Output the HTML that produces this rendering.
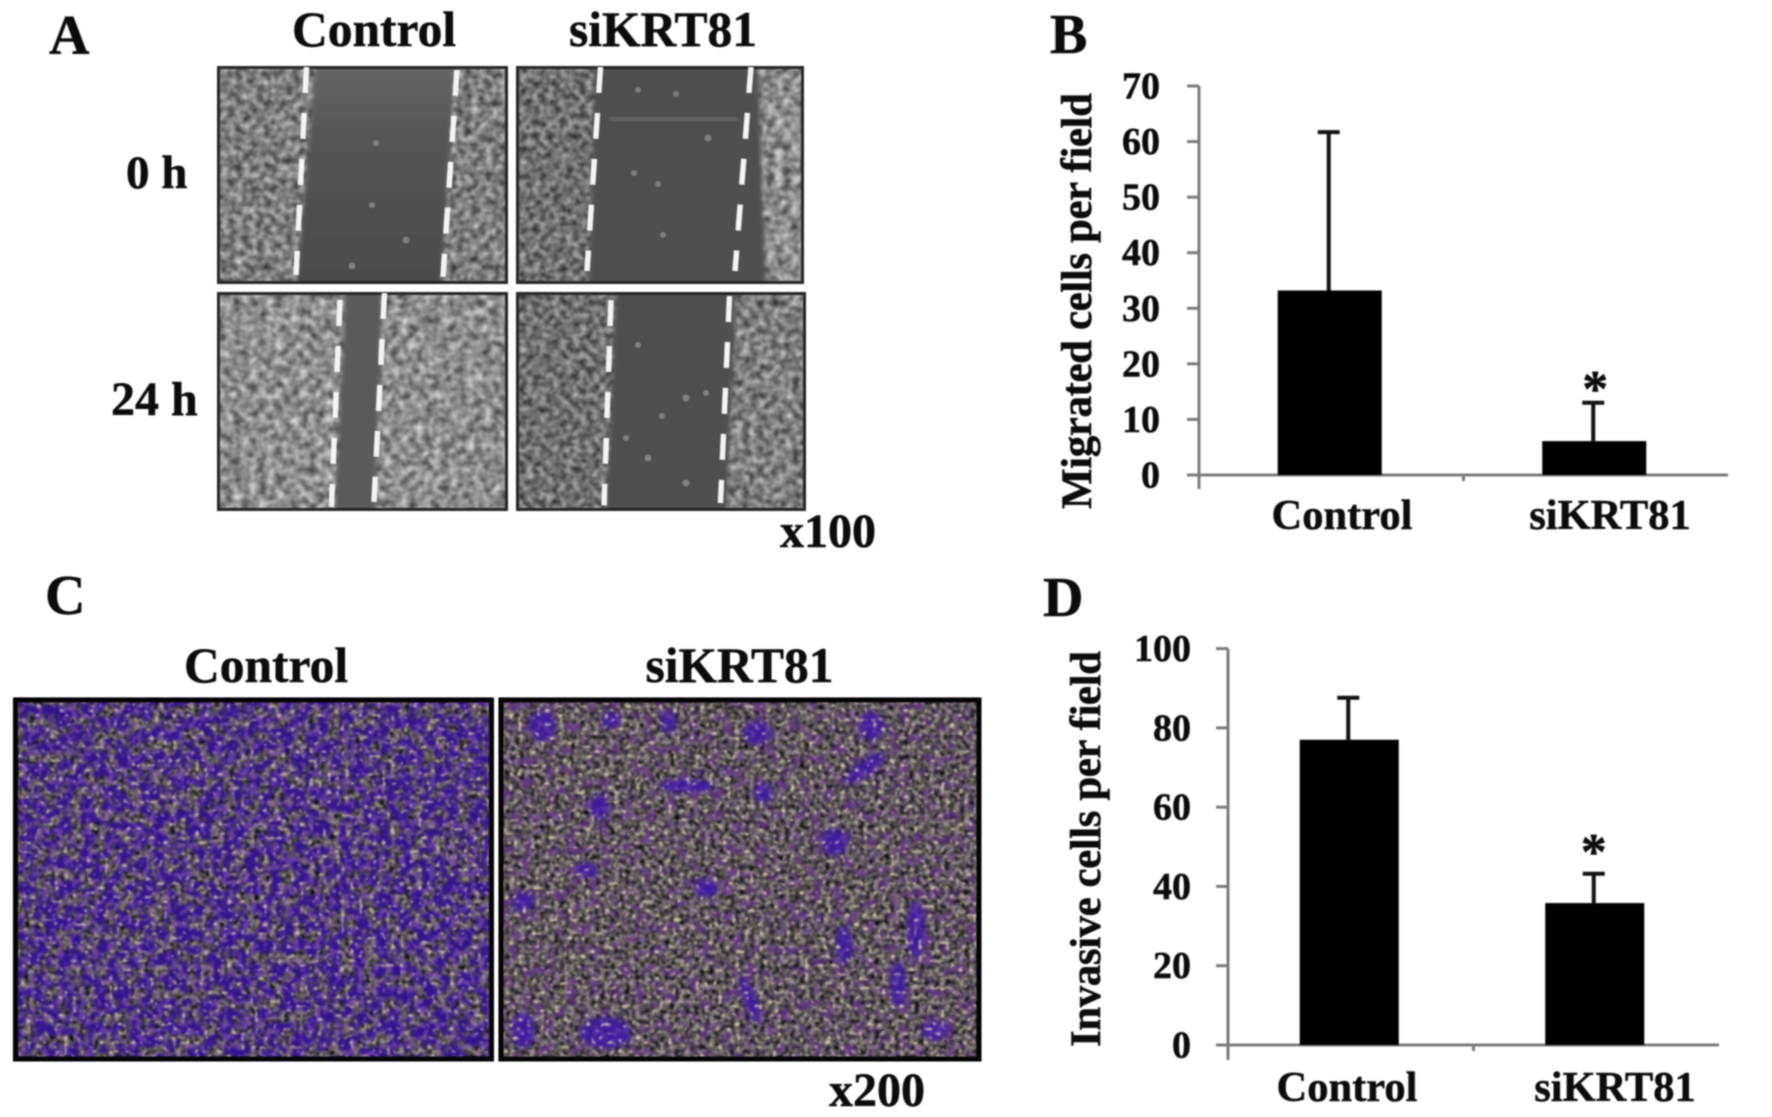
<!DOCTYPE html>
<html lang="en">
<head>
<meta charset="utf-8">
<title>KRT81 migration and invasion figure</title>
<style>
html,body{margin:0;padding:0;background:#fff;width:1772px;height:1117px;overflow:hidden}
svg{display:block;font-family:"Liberation Serif",serif;font-weight:bold}
text{fill:#0c0c0c;stroke:#0c0c0c;stroke-width:.5px}
.soft{filter:blur(.7px)}
</style>
</head>
<body>
<svg id="figure" width="1772" height="1117" viewBox="0 0 1772 1117" xmlns="http://www.w3.org/2000/svg">
<defs>
  <filter id="cellsLow" x="0" y="0" width="100%" height="100%" color-interpolation-filters="sRGB">
    <feTurbulence type="fractalNoise" baseFrequency="0.15" numOctaves="2" seed="7"/>
    <feColorMatrix values=".8 0 0 0 .04  .8 0 0 0 .04  .8 0 0 0 .04  0 0 0 0 1"/>
    <feGaussianBlur stdDeviation="1"/>
  </filter>
  <filter id="cellsMid" x="0" y="0" width="100%" height="100%" color-interpolation-filters="sRGB">
    <feTurbulence type="fractalNoise" baseFrequency="0.14" numOctaves="2" seed="19"/>
    <feColorMatrix values=".85 0 0 0 .07  .85 0 0 0 .07  .85 0 0 0 .07  0 0 0 0 1"/>
    <feGaussianBlur stdDeviation="1"/>
  </filter>
  <filter id="cellsHigh" x="0" y="0" width="100%" height="100%" color-interpolation-filters="sRGB">
    <feTurbulence type="fractalNoise" baseFrequency="0.12" numOctaves="2" seed="31"/>
    <feColorMatrix values=".85 0 0 0 .13  .85 0 0 0 .13  .85 0 0 0 .13  0 0 0 0 1"/>
    <feGaussianBlur stdDeviation="1"/>
  </filter>
  <filter id="edge" x="-10%" y="-10%" width="120%" height="120%"><feGaussianBlur stdDeviation="2.5"/></filter>
  <filter id="speck" x="0" y="0" width="100%" height="100%" color-interpolation-filters="sRGB">
    <feTurbulence type="fractalNoise" baseFrequency="0.2" numOctaves="2" seed="3"/>
    <feColorMatrix values="1.1 .1 0 0 -.26  1.05 .1 0 0 -.25  .95 .2 0 0 -.26  0 0 0 0 1"/>
    <feGaussianBlur stdDeviation=".9"/>
  </filter>
  <filter id="cream" x="0" y="0" width="100%" height="100%" color-interpolation-filters="sRGB">
    <feTurbulence type="fractalNoise" baseFrequency="0.22" numOctaves="1" seed="11"/>
    <feColorMatrix values="0 0 0 0 .92  0 0 0 0 .88  0 0 0 0 .72  8 0 0 0 -4.9"/>
    <feGaussianBlur stdDeviation=".9"/>
  </filter>
  <filter id="lilac" x="0" y="0" width="100%" height="100%" color-interpolation-filters="sRGB">
    <feTurbulence type="fractalNoise" baseFrequency="0.14" numOctaves="2" seed="41"/>
    <feColorMatrix values="0 0 0 0 .6  0 0 0 0 .42  0 0 0 0 .72  6 0 0 0 -3"/>
    <feGaussianBlur stdDeviation=".8"/>
  </filter>
  <filter id="purpleDense" x="0" y="0" width="100%" height="100%" color-interpolation-filters="sRGB">
    <feTurbulence type="fractalNoise" baseFrequency="0.085" numOctaves="3" seed="5"/>
    <feColorMatrix values="0 0 0 0 .2  0 0 0 0 .08  0 0 0 0 .56  5 0 0 0 -1.9"/>
    <feGaussianBlur stdDeviation="1.2"/>
  </filter>
  <filter id="purpleSparse" x="0" y="0" width="100%" height="100%" color-interpolation-filters="sRGB">
    <feTurbulence type="fractalNoise" baseFrequency="0.09" numOctaves="3" seed="23"/>
    <feColorMatrix values="0 0 0 0 .36  0 0 0 0 .2  0 0 0 0 .5  4 0 0 0 -2.05"/>
    <feGaussianBlur stdDeviation="1.2"/>
  </filter>
  <filter id="blob" x="-50%" y="-50%" width="200%" height="200%"><feGaussianBlur stdDeviation="3"/></filter>
  <clipPath id="clip-tl"><rect x="218" y="67" width="289" height="216"/></clipPath>
  <clipPath id="clip-tr"><rect x="517" y="67" width="286" height="216"/></clipPath>
  <clipPath id="clip-bl"><rect x="218" y="293" width="289" height="217"/></clipPath>
  <clipPath id="clip-br"><rect x="517" y="293" width="288" height="217"/></clipPath>
  <linearGradient id="woundGrad" x1="0" y1="0" x2="0" y2="1">
    <stop offset="0" stop-color="#676767"/><stop offset=".35" stop-color="#545454"/><stop offset="1" stop-color="#4b4b4b"/>
  </linearGradient>
</defs>
<rect width="1772" height="1117" fill="#fff"/>

<!-- Panel A -->
<g>
  <g clip-path="url(#clip-tl)">
    <rect x="218" y="67" width="289" height="216" filter="url(#cellsMid)"/>
    <polygon points="316,60 455,60 441,290 296,290" fill="url(#woundGrad)" filter="url(#edge)"/>
    <g fill="#7e7e7e" class="soft"><circle cx="376" cy="143" r="3"/><circle cx="372" cy="205" r="3"/><circle cx="406" cy="240" r="3.5"/><circle cx="352" cy="266" r="3.5"/></g>
  </g>
  <g clip-path="url(#clip-tr)">
    <rect x="517" y="67" width="240" height="216" filter="url(#cellsLow)"/>
    <rect x="740" y="67" width="63" height="216" filter="url(#cellsHigh)"/>
    <polygon points="595,60 758,60 766,290 589,290" fill="#505050" filter="url(#edge)"/>
    <rect x="610" y="117" width="128" height="4" fill="#6c6c6c" filter="url(#edge)"/>
    <g fill="#7e7e7e" class="soft"><circle cx="638" cy="90" r="3"/><circle cx="676" cy="94" r="3"/><circle cx="708" cy="138" r="3.5"/><circle cx="634" cy="173" r="3"/><circle cx="658" cy="184" r="3"/><circle cx="663" cy="235" r="3"/></g>
  </g>
  <g clip-path="url(#clip-bl)">
    <rect x="218" y="293" width="289" height="217" filter="url(#cellsHigh)"/>
    <polygon points="346,290 382,290 375,516 334,516" fill="#5a5a5a" filter="url(#edge)"/>
  </g>
  <g clip-path="url(#clip-br)">
    <rect x="517" y="293" width="288" height="217" filter="url(#cellsLow)"/>
    <rect x="725" y="293" width="80" height="217" filter="url(#cellsMid)"/>
    <polygon points="616,290 736,290 726,516 606,516" fill="#505050" filter="url(#edge)"/>
    <g fill="#808080" class="soft"><circle cx="638" cy="345" r="3"/><circle cx="686" cy="398" r="3.5"/><circle cx="662" cy="416" r="3"/><circle cx="648" cy="458" r="3.5"/><circle cx="686" cy="483" r="3.5"/><circle cx="706" cy="393" r="3"/><circle cx="626" cy="438" r="3"/></g>
  </g>
  <g fill="none" stroke="#262626" stroke-width="3" class="soft">
    <rect x="218.5" y="67.5" width="288" height="215"/>
    <rect x="517.5" y="67.5" width="285" height="215"/>
    <rect x="218.5" y="293.5" width="288" height="216"/>
    <rect x="517.5" y="293.5" width="287" height="216"/>
  </g>
  <g stroke="#f4f4f4" stroke-width="5.5" stroke-dasharray="26 20" class="soft">
    <line x1="306.5" y1="67" x2="296" y2="275"/>
    <line x1="457" y1="70" x2="443" y2="277"/>
    <line x1="600.5" y1="67" x2="587" y2="271"/>
    <line x1="751" y1="67" x2="735" y2="271"/>
    <line x1="340" y1="300" x2="331.4" y2="507"/>
    <line x1="384.5" y1="293" x2="374" y2="502"/>
    <line x1="611" y1="300" x2="604" y2="505.5"/>
    <line x1="729.5" y1="296" x2="720.5" y2="503"/>
  </g>
  <g class="soft">
    <text x="49" y="54" font-size="56">A</text>
    <text x="292" y="46" font-size="49.5">Control</text>
    <text x="569" y="46" font-size="49.5">siKRT81</text>
    <text x="126" y="188" font-size="47">0 h</text>
    <text x="111" y="415" font-size="48">24 h</text>
    <text x="780" y="547" font-size="48">x100</text>
  </g>
</g>

<!-- Panel C -->
<g>
  <g class="soft">
    <rect x="14" y="698" width="478" height="362" filter="url(#speck)"/>
    <rect x="14" y="698" width="478" height="362" filter="url(#purpleDense)"/>
    <rect x="14" y="698" width="478" height="362" filter="url(#lilac)" opacity=".45"/>
    <rect x="14" y="698" width="478" height="362" filter="url(#cream)" opacity=".7"/>
  </g>
  <g class="soft">
    <rect x="499" y="698" width="481" height="362" filter="url(#speck)"/>
    <rect x="499" y="698" width="481" height="362" filter="url(#purpleSparse)"/>
    <g fill="#3d1a9c" filter="url(#blob)">
      <ellipse cx="542" cy="726" rx="13" ry="16"/><ellipse cx="611" cy="719" rx="10" ry="8"/>
      <ellipse cx="668" cy="722" rx="8" ry="12"/><ellipse cx="757" cy="733" rx="14" ry="12"/>
      <ellipse cx="871" cy="726" rx="13" ry="14"/><ellipse cx="687" cy="786" rx="28" ry="7"/>
      <ellipse cx="865" cy="768" rx="24" ry="8" transform="rotate(-35 865 768)"/><ellipse cx="763" cy="793" rx="10" ry="10"/>
      <ellipse cx="599" cy="807" rx="10" ry="13"/><ellipse cx="834" cy="842" rx="14" ry="14"/>
      <ellipse cx="586" cy="870" rx="12" ry="8"/><ellipse cx="706" cy="888" rx="12" ry="10"/>
      <ellipse cx="523" cy="902" rx="12" ry="10"/><ellipse cx="916" cy="930" rx="9" ry="30"/>
      <ellipse cx="750" cy="1000" rx="7" ry="26" transform="rotate(-20 750 1000)"/>
      <ellipse cx="605" cy="1033" rx="26" ry="16"/><ellipse cx="523" cy="1030" rx="12" ry="18"/>
      <ellipse cx="935" cy="1030" rx="14" ry="10"/><ellipse cx="898" cy="985" rx="8" ry="24"/>
      <ellipse cx="844" cy="945" rx="8" ry="20"/>
    </g>
    <rect x="499" y="698" width="481" height="362" filter="url(#lilac)" opacity=".25"/>
    <rect x="499" y="698" width="481" height="362" filter="url(#cream)" opacity=".8"/>
  </g>
  <g fill="none" stroke="#050505" stroke-width="5" class="soft">
    <rect x="15.5" y="700" width="476" height="359"/>
    <rect x="501" y="700" width="478" height="359"/>
  </g>
  <g class="soft">
    <text x="45" y="614" font-size="56">C</text>
    <text x="184" y="682" font-size="49.5">Control</text>
    <text x="645.5" y="682" font-size="49.5">siKRT81</text>
    <text x="829" y="1106" font-size="48">x200</text>
  </g>
</g>

<!-- Panels B & D -->
<g class="soft">
  <text x="1050" y="53" font-size="56">B</text>
  <text x="1043" y="616" font-size="56">D</text>
  <g id="chart-b"></g>
  <g id="chart-d"></g>
</g>
</svg>

<script>
const categories = ["Control", "siKRT81"];
const migratedMeans = [33.2, 6.1];
const migratedErrors = [28.5, 6.9];
const migratedTicks = [0, 10, 20, 30, 40, 50, 60, 70];
const invasiveMeans = [77, 35.8];
const invasiveErrors = [10.6, 7.4];
const invasiveTicks = [0, 20, 40, 60, 80, 100];
const significant = [false, true];

const NS = 'http://www.w3.org/2000/svg';

function mark(parent, tag, attrs) {
  const el = document.createElementNS(NS, tag);
  for (const k in attrs) el.setAttribute(k, attrs[k]);
  parent.appendChild(el);
  return el;
}

function drawChart(id, means, errors, ticks, title, c) {
  const g = document.getElementById(id);
  const yMax = ticks[ticks.length - 1];
  const y = v => c.y0 - (v / yMax) * (c.y0 - c.yTop);
  const band = (c.xEnd - c.xAxis) / categories.length;
  const x = i => c.xAxis + c.barShift + band * (i + 0.5);
  const axisStyle = { stroke: '#7b7b7b', 'stroke-width': 3, fill: 'none' };

  const yAxis = mark(g, 'line', { x1: c.xAxis, x2: c.xAxis, y1: y(yMax), y2: c.yAxisEnd, ...axisStyle });
  
  
  const xAxis = mark(g, 'line', { x1: c.xAxis - 12, x2: c.xEnd, y1: y(0), y2: y(0), ...axisStyle });
  
  
  const midTick = mark(g, 'line', { x1: c.xAxis + band, x2: c.xAxis + band, y1: y(0), y2: y(0) + 6, ...axisStyle });
  
  

  ticks.forEach(t => {
    const tick = mark(g, 'line', { x1: c.xAxis - 12, x2: c.xAxis, y1: y(t), y2: y(t), ...axisStyle });
    
    
    const label = mark(g, 'text', { x: c.tickLabelX, y: y(t) + 12.5, 'font-size': 38, 'text-anchor': 'end' });
    label.textContent = t;
    
    
  });

  categories.forEach((cat, i) => {
    const cx = x(i);
    const bar = mark(g, 'rect', { x: cx - c.barW / 2, y: y(means[i]), width: c.barW, height: y(0) - y(means[i]), fill: '#000' });
    
    
    const top = y(means[i] + errors[i]);
    const stem = mark(g, 'line', { x1: cx - 1, x2: cx - 1, y1: y(means[i]), y2: top, stroke: '#111', 'stroke-width': 4 });
    
    
    const cap = mark(g, 'line', { x1: cx - 12, x2: cx + 10, y1: top, y2: top, stroke: '#111', 'stroke-width': 4 });
    
    
    if (significant[i]) {
      const star = mark(g, 'text', { x: cx + c.starDx, y: top + c.starDy, 'font-size': 52, 'text-anchor': 'middle' });
      star.textContent = '*';
      
      
    }
    const lab = mark(g, 'text', { x: c.labelX + i * c.labelStep, y: c.labelY, 'font-size': 42.5, 'text-anchor': 'middle' });
    lab.textContent = cat;
    
    
  });

  const t = mark(g, 'text', {
    x: 0, y: 0, 'font-size': 43, 'text-anchor': 'middle',
    textLength: c.titleLen, lengthAdjust: 'spacing',
    transform: 'translate(' + c.titleX + ' ' + c.titleY + ') rotate(-90)'
  });
  t.textContent = title;
  
  
}

drawChart('chart-b', migratedMeans, migratedErrors, migratedTicks, 'Migrated cells per field', {
  xAxis: 1199, xEnd: 1728, y0: 475, yTop: 86, yAxisEnd: 489, barW: 104, barShift: -1.5, tickLabelX: 1160,
  labelX: 1342, labelStep: 268, labelY: 529, starDx: 1, starDy: 3,
  titleX: 1091, titleY: 301, titleLen: 416
});
drawChart('chart-d', invasiveMeans, invasiveErrors, invasiveTicks, 'Invasive cells per field', {
  xAxis: 1228, xEnd: 1719, y0: 1045, yTop: 648.6, yAxisEnd: 1060, barW: 99, barShift: -1.5, tickLabelX: 1191,
  labelX: 1347, labelStep: 268, labelY: 1101, starDx: -1, starDy: -5,
  titleX: 1100, titleY: 849, titleLen: 396
});
</script>
</body>
</html>
